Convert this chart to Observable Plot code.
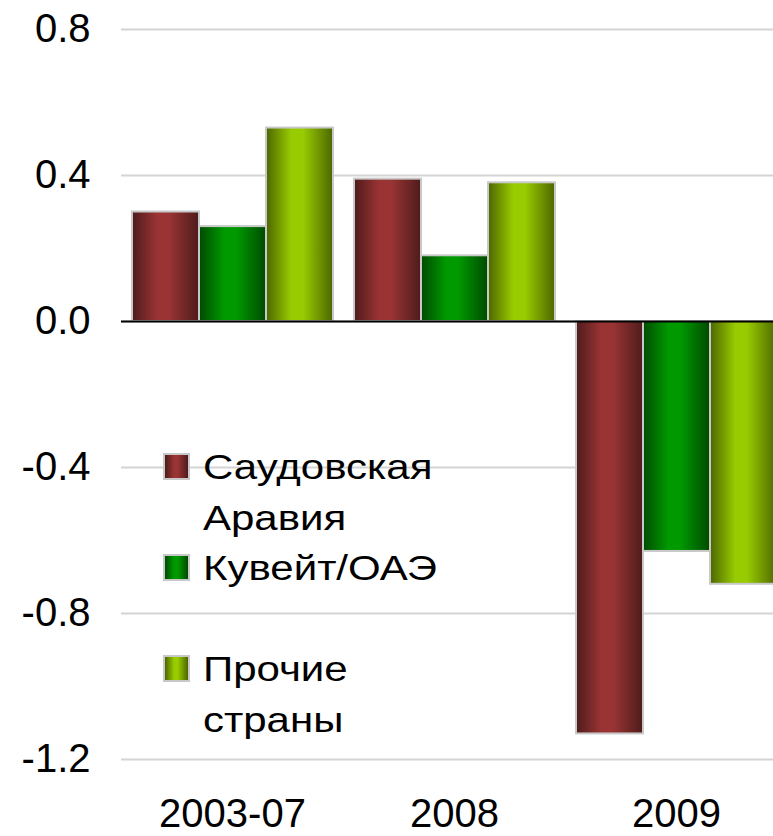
<!DOCTYPE html>
<html>
<head>
<meta charset="utf-8">
<script src="https://cdn.jsdelivr.net/npm/d3@7"></script>
<script src="https://cdn.jsdelivr.net/npm/@observablehq/plot@0.6"></script>
<style>
  html, body { margin: 0; padding: 0; background: #fff; overflow: hidden; }
  #wrap { position: relative; width: 773px; height: 836px; }
  .legend { position: absolute; left: 163px; top: 441px; font-family: "Liberation Sans", Arial, sans-serif; }
  .item { position: relative; height: 101px; }
  .sw { position: absolute; left: 0; top: 12px; width: 27px; height: 27px; box-sizing: border-box; border: 2px solid #c8c8c8; }
  .lbl { position: absolute; left: 40px; top: 0; font-size: 35px; line-height: 51px; color: #000; transform: scaleX(1.2); transform-origin: left top; white-space: nowrap; }
</style>
</head>
<body>
<div id="wrap"></div>
<script>
const groups = ["2003-07", "2008", "2009"];
const series = ["Саудовская Аравия", "Кувейт/ОАЭ", "Прочие страны"];
const saudi = [0.30, 0.39, -1.13];
const kuwait = [0.26, 0.18, -0.63];
const others = [0.53, 0.38, -0.72];
const yTicks = [0.8, 0.4, 0.0, -0.4, -0.8, -1.2];

const colorsEdge = ["#4e1b1b", "#004a00", "#4c6600"];
const colorsMid = ["#9a3434", "#009a00", "#99cc00"];
const gradIds = ["gSA", "gKW", "gOT"];

const valuesBySeries = [saudi, kuwait, others];
const data = [];
groups.forEach((g, gi) => series.forEach((s, si) => data.push({group: g, series: s, value: valuesBySeries[si][gi]})));

const chart = Plot.plot({
  width: 773,
  height: 836,
  marginTop: 29,
  marginBottom: 77,
  marginLeft: 120,
  marginRight: 0,
  style: {fontFamily: "'Liberation Sans', Arial, sans-serif", color: "#000", background: "#fff"},
  fx: {domain: groups, range: [120, 787.5], paddingInner: 0.09, paddingOuter: 0.045, axis: null, label: null},
  x: {domain: series, padding: 0, axis: null},
  y: {domain: [-1.2, 0.8], axis: null},
  color: {domain: series, range: gradIds.map(id => `url(#${id})`)},
  marks: [
    Plot.ruleY(yTicks, {stroke: "#d4d4d4", strokeWidth: 2, insetLeft: -10, insetRight: -10}),
    Plot.barY(data, {fx: "group", x: "series", y: "value", fill: "series", stroke: "#c8c8c8", strokeWidth: 2}),
    Plot.ruleY([0], {stroke: "#000", strokeWidth: 2, insetLeft: -10, insetRight: -10}),
    Plot.axisY({ticks: yTicks, tickFormat: d => d.toFixed(1), tickSize: 0, tickPadding: 41, fontSize: 40, label: null}),
    Plot.axisFx({anchor: "bottom", tickSize: 0, tickPadding: 39, fontSize: 40, label: null})
  ]
});

const defs = d3.select(chart).insert("defs", ":first-child");
gradIds.forEach((id, i) => {
  const lg = defs.append("linearGradient").attr("id", id).attr("x1", 0).attr("x2", 1).attr("y1", 0).attr("y2", 0);
  lg.append("stop").attr("offset", "0%").attr("stop-color", colorsEdge[i]);
  lg.append("stop").attr("offset", "38%").attr("stop-color", colorsMid[i]);
  lg.append("stop").attr("offset", "55%").attr("stop-color", colorsMid[i]);
  lg.append("stop").attr("offset", "100%").attr("stop-color", colorsEdge[i]);
});

const wrap = document.getElementById("wrap");
wrap.appendChild(chart);

const legend = document.createElement("div");
legend.className = "legend";
series.forEach((s, i) => {
  const item = document.createElement("div");
  item.className = "item";
  const sw = document.createElement("div");
  sw.className = "sw";
  sw.style.background = `linear-gradient(to right, ${colorsEdge[i]}, ${colorsMid[i]} 40%, ${colorsMid[i]} 55%, ${colorsEdge[i]})`;
  const lbl = document.createElement("div");
  lbl.className = "lbl";
  s.split(" ").forEach((w, k) => {
    if (k) lbl.appendChild(document.createElement("br"));
    lbl.appendChild(document.createTextNode(w));
  });
  item.appendChild(sw);
  item.appendChild(lbl);
  legend.appendChild(item);
});
wrap.appendChild(legend);
</script>
</body>
</html>
